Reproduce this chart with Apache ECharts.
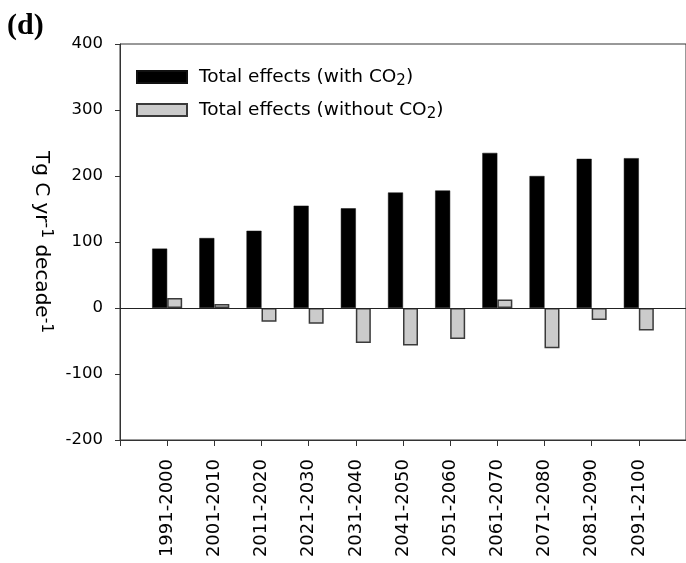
<!DOCTYPE html>
<html>
<head>
<meta charset="utf-8">
<script src="https://cdn.jsdelivr.net/npm/echarts@6/dist/echarts.min.js"></script>
<style>html,body{margin:0;padding:0;background:#fff}#c{width:686px;height:563px}</style>
</head>
<body>
<div id="c"></div>
<script>
var categories = ['1991-2000','2001-2010','2011-2020','2021-2030','2031-2040','2041-2050','2051-2060','2061-2070','2071-2080','2081-2090','2091-2100'];
var withCO2 = [90, 106, 117, 155, 151, 175, 178, 235, 200, 226, 227];
var withoutCO2 = [15, 6, -21, -24, -53, -57, -47, 13, -61, -18, -34];
var yTicks = [-200, -100, 0, 100, 200, 300, 400];
var seriesNames = ['Total effects (with CO2)', 'Total effects (without CO2)'];

var FONT = 'DejaVu Sans, Liberation Sans, Arial, sans-serif';
function pts(arr){ return arr.map(function(v,i){ return [i+1, v]; }); }

var chart = echarts.init(document.getElementById('c'), null, {renderer:'canvas'});
chart.setOption({
  animation: false,
  backgroundColor: '#fff',
  title: {
    text: '(d)', left: 7, top: 11, padding: 0,
    textStyle: {fontFamily: 'Liberation Serif, Times New Roman, serif', fontWeight: 'bold', fontSize: 30, color: '#000'}
  },
  grid: {left: 120, top: 44, right: -1, bottom: 123, show: true, borderColor: '#333', borderWidth: 1, backgroundColor: 'transparent'},
  legend: {
    orient: 'vertical', left: 136, top: 66, padding: 0, itemWidth: 50, itemHeight: 12, itemGap: 10,
    icon: 'rect',
    data: seriesNames,
    formatter: function(n){
      var base = n.replace(/CO2\)$/, '');
      return '{t|' + base + 'CO}{sub|2}{t|)}';
    },
    textStyle: {
      fontFamily: FONT, fontSize: 18.5, color: '#000', padding: [0,0,0,7],
      rich: {
        t: {fontFamily: FONT, fontSize: 18.5, color: '#000', lineHeight: 24},
        sub: {fontFamily: FONT, fontSize: 15, color: '#000', verticalAlign: 'bottom', lineHeight: 24, padding: [8,0,0,0]}
      }
    }
  },
  xAxis: {
    type: 'value', min: 0, max: 12, interval: 1,
    axisLine: {show: true, onZero: false, lineStyle: {color: '#333', width: 1}},
    axisTick: {show: true, length: 6, lineStyle: {color: '#333'}},
    splitLine: {show: false},
    axisLabel: {
      rotate: 90, margin: 19, fontFamily: FONT, fontSize: 18, color: '#000',
      formatter: function(v){ return (v >= 1 && v <= categories.length) ? categories[v-1] : ''; }
    }
  },
  yAxis: {
    type: 'value', min: yTicks[0], max: yTicks[yTicks.length-1], interval: 100,
    name: '{n|Tg C yr}{s|-1}{n| decade}{s|-1}',
    nameLocation: 'middle', nameRotate: -90, nameGap: 66,
    nameTextStyle: {
      rich: {
        n: {fontFamily: FONT, fontSize: 20, color: '#000', lineHeight: 26},
        s: {fontFamily: FONT, fontSize: 15.5, color: '#000', verticalAlign: 'top', lineHeight: 26, padding: [0,0,8,0]}
      }
    },
    axisLine: {show: true, lineStyle: {color: '#333', width: 1}},
    axisTick: {show: true, length: 5, lineStyle: {color: '#333'}},
    splitLine: {show: false},
    axisLabel: {margin: 17, fontFamily: FONT, fontSize: 16.5, color: '#000'}
  },
  series: [
    {
      name: seriesNames[0], type: 'bar', barWidth: 15, barGap: '0%',
      data: pts(withCO2),
      itemStyle: {color: '#000', borderColor: '#111', borderWidth: 0.5},
      markLine: {
        silent: true, symbol: 'none', label: {show: false},
        lineStyle: {color: '#222', type: 'solid', width: 1},
        data: [{yAxis: 0}]
      }
    },
    {
      name: seriesNames[1], type: 'bar', barWidth: 15, barGap: '0%',
      data: pts(withoutCO2),
      itemStyle: {color: '#cbcbcb', borderColor: '#3a3a3a', borderWidth: 1.5}
    }
  ]
});
</script>
</body>
</html>
